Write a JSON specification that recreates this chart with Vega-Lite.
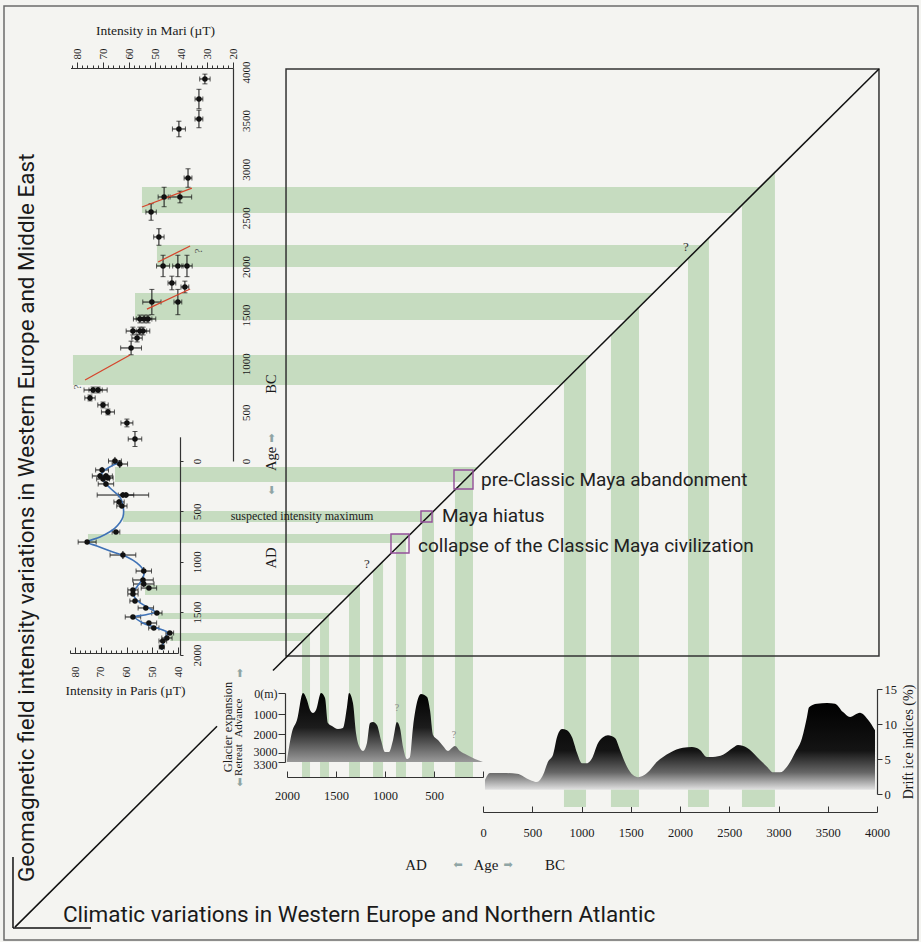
{
  "$schema": "https://vega.github.io/schema/vega-lite/v6.json",
  "width": 914,
  "height": 934,
  "autosize": {"type": "none"},
  "padding": {"left": 4, "top": 6, "right": 3, "bottom": 2},
  "background": "#f4f4f1",
  "config": {
    "view": {"stroke": "#6b6b6b", "strokeWidth": 1.5},
    "axis": {
      "grid": false, "labelFont": "Liberation Serif", "titleFont": "Liberation Serif",
      "labelFontSize": 11, "titleFontSize": 13.5, "titleFontWeight": "normal",
      "labelColor": "#1a1a1a", "titleColor": "#1a1a1a", "domainColor": "#333", "tickColor": "#333",
      "domainWidth": 1.2, "labelOverlap": false, "labelBound": false, "labelFlush": false
    },
    "text": {"font": "Liberation Serif", "color": "#1a1a1a"}
  },
  "datasets": {
    "hbands": [
      {"band": "H1", "y": -2817, "x0": 3480, "x1": -2806}, {"band": "H1", "y": -2550, "x0": 3480, "x1": -2541},
      {"band": "H2", "y": -2221, "x0": 3327, "x1": -2214}, {"band": "H2", "y": -1995, "x0": 3327, "x1": -1989},
      {"band": "H3", "y": -1727, "x0": 3551, "x1": -1724}, {"band": "H3", "y": -1450, "x0": 3551, "x1": -1448},
      {"band": "H4", "y": -1090, "x0": 4184, "x1": -1090}, {"band": "H4", "y": -781, "x0": 4184, "x1": -785},
      {"band": "A1", "y": 60, "x0": 3755, "x1": 53}, {"band": "A1", "y": 209, "x0": 3755, "x1": 207},
      {"band": "A2", "y": 497, "x0": 3673, "x1": 505}, {"band": "A2", "y": 606, "x0": 3673, "x1": 618},
      {"band": "A3", "y": 725, "x0": 4031, "x1": 741}, {"band": "A3", "y": 815, "x0": 4031, "x1": 834},
      {"band": "A4", "y": 1232, "x0": 3449, "x1": 1264}, {"band": "A4", "y": 1331, "x0": 3449, "x1": 1367},
      {"band": "A5", "y": 1512, "x0": 3316, "x1": 1552}, {"band": "A5", "y": 1581, "x0": 3316, "x1": 1613},
      {"band": "A6", "y": 1744, "x0": 3194, "x1": 1757}, {"band": "A6", "y": 1837, "x0": 3194, "x1": 1839}
    ],
    "vbands": [
      {"band": "V1", "x": -822, "y0": -820, "y1": 3767}, {"band": "V1", "x": -1046, "y0": -1045, "y1": 3767},
      {"band": "V2", "x": -1299, "y0": -1301, "y1": 3767}, {"band": "V2", "x": -1584, "y0": -1587, "y1": 3767},
      {"band": "V3", "x": -2081, "y0": -2087, "y1": 3767}, {"band": "V3", "x": -2294, "y0": -2302, "y1": 3767},
      {"band": "V4", "x": -2629, "y0": -2639, "y1": 3767}, {"band": "V4", "x": -2964, "y0": -2976, "y1": 3767},
      {"band": "VA1", "x": 1847, "y0": 1847, "y1": 3419}, {"band": "VA1", "x": 1765, "y0": 1753, "y1": 3419},
      {"band": "VA2", "x": 1663, "y0": 1638, "y1": 3419}, {"band": "VA2", "x": 1571, "y0": 1534, "y1": 3419},
      {"band": "VA3", "x": 1367, "y0": 1331, "y1": 3419}, {"band": "VA3", "x": 1255, "y0": 1223, "y1": 3419},
      {"band": "VA4", "x": 1122, "y0": 1095, "y1": 3419}, {"band": "VA4", "x": 1020, "y0": 995, "y1": 3419},
      {"band": "VA5", "x": 888, "y0": 867, "y1": 3419}, {"band": "VA5", "x": 786, "y0": 769, "y1": 3419},
      {"band": "VA6", "x": 622, "y0": 611, "y1": 3419}, {"band": "VA6", "x": 500, "y0": 492, "y1": 3419},
      {"band": "VA7", "x": 286, "y0": 284, "y1": 3419}, {"band": "VA7", "x": 102, "y0": 106, "y1": 3419}
    ],
    "mari": [
      {"bc": 3927, "uT": 30.8, "uT_lo": 28.8, "uT_hi": 32.8, "bc_lo": 3877, "bc_hi": 3977},
      {"bc": 3721, "uT": 33.1, "uT_lo": 31.6, "uT_hi": 34.6, "bc_lo": 3621, "bc_hi": 3821},
      {"bc": 3516, "uT": 33.1, "uT_lo": 31.6, "uT_hi": 34.6, "bc_lo": 3426, "bc_hi": 3606},
      {"bc": 3413, "uT": 40.8, "uT_lo": 38.3, "uT_hi": 43.3, "bc_lo": 3333, "bc_hi": 3493},
      {"bc": 2909, "uT": 37.3, "uT_lo": 35.8, "uT_hi": 38.8, "bc_lo": 2814, "bc_hi": 3004},
      {"bc": 2714, "uT": 40.4, "uT_lo": 35.9, "uT_hi": 44.9, "bc_lo": 2654, "bc_hi": 2774},
      {"bc": 2714, "uT": 46.5, "uT_lo": 44.2, "uT_hi": 48.8, "bc_lo": 2614, "bc_hi": 2814},
      {"bc": 2560, "uT": 51.5, "uT_lo": 49.5, "uT_hi": 53.5, "bc_lo": 2475, "bc_hi": 2645},
      {"bc": 2303, "uT": 48.5, "uT_lo": 46.5, "uT_hi": 50.5, "bc_lo": 2218, "bc_hi": 2388},
      {"bc": 2005, "uT": 46.9, "uT_lo": 44.4, "uT_hi": 49.4, "bc_lo": 1895, "bc_hi": 2115},
      {"bc": 2005, "uT": 41.2, "uT_lo": 39.2, "uT_hi": 43.2, "bc_lo": 1895, "bc_hi": 2115},
      {"bc": 2005, "uT": 37.7, "uT_lo": 35.7, "uT_hi": 39.7, "bc_lo": 1895, "bc_hi": 2115},
      {"bc": 1830, "uT": 43.5, "uT_lo": 42.0, "uT_hi": 45.0, "bc_lo": 1760, "bc_hi": 1900},
      {"bc": 1789, "uT": 38.5, "uT_lo": 37.0, "uT_hi": 40.0, "bc_lo": 1729, "bc_hi": 1849},
      {"bc": 1634, "uT": 51.2, "uT_lo": 47.7, "uT_hi": 54.7, "bc_lo": 1504, "bc_hi": 1764},
      {"bc": 1634, "uT": 41.2, "uT_lo": 39.7, "uT_hi": 42.7, "bc_lo": 1504, "bc_hi": 1764},
      {"bc": 1460, "uT": 55.8, "uT_lo": 53.3, "uT_hi": 58.3, "bc_lo": 1420, "bc_hi": 1500},
      {"bc": 1460, "uT": 54.2, "uT_lo": 51.2, "uT_hi": 57.2, "bc_lo": 1420, "bc_hi": 1500},
      {"bc": 1460, "uT": 52.7, "uT_lo": 49.7, "uT_hi": 55.7, "bc_lo": 1420, "bc_hi": 1500},
      {"bc": 1336, "uT": 58.5, "uT_lo": 55.9, "uT_hi": 61.1, "bc_lo": 1296, "bc_hi": 1376},
      {"bc": 1336, "uT": 55.8, "uT_lo": 53.2, "uT_hi": 58.4, "bc_lo": 1296, "bc_hi": 1376},
      {"bc": 1336, "uT": 54.6, "uT_lo": 52.0, "uT_hi": 57.2, "bc_lo": 1296, "bc_hi": 1376},
      {"bc": 1264, "uT": 56.9, "uT_lo": 54.9, "uT_hi": 58.9, "bc_lo": 1224, "bc_hi": 1304},
      {"bc": 1162, "uT": 59.2, "uT_lo": 55.2, "uT_hi": 63.2, "bc_lo": 1092, "bc_hi": 1232},
      {"bc": 730, "uT": 73.8, "uT_lo": 70.3, "uT_hi": 77.3, "bc_lo": 700, "bc_hi": 760},
      {"bc": 730, "uT": 71.9, "uT_lo": 68.4, "uT_hi": 75.4, "bc_lo": 700, "bc_hi": 760},
      {"bc": 648, "uT": 75.0, "uT_lo": 73.0, "uT_hi": 77.0, "bc_lo": 618, "bc_hi": 678},
      {"bc": 576, "uT": 70.0, "uT_lo": 68.0, "uT_hi": 72.0, "bc_lo": 546, "bc_hi": 606},
      {"bc": 504, "uT": 68.1, "uT_lo": 65.6, "uT_hi": 70.6, "bc_lo": 474, "bc_hi": 534},
      {"bc": 391, "uT": 60.8, "uT_lo": 58.5, "uT_hi": 63.1, "bc_lo": 351, "bc_hi": 431},
      {"bc": 226, "uT": 57.7, "uT_lo": 55.1, "uT_hi": 60.3, "bc_lo": 149, "bc_hi": 303}
    ],
    "mari_trend": [
      {"uT1": 55.0, "bc1": 2611, "uT2": 35.8, "bc2": 2806},
      {"uT1": 48.8, "bc1": 2046, "uT2": 36.5, "bc2": 2210},
      {"uT1": 53.1, "bc1": 1562, "uT2": 36.5, "bc2": 1768},
      {"uT1": 76.9, "bc1": 833, "uT2": 59.6, "bc2": 1090}
    ],
    "mari_q": [{"t": "?", "uT": 79.6, "bc": 761}, {"t": "?", "uT": 33.1, "bc": 2159}],
    "paris": [
      {"ad": 0, "uT": 64.5, "uT_lo": 62.0, "uT_hi": 67.0, "ad_lo": -40, "ad_hi": 40},
      {"ad": 30, "uT": 62.6, "uT_lo": 59.6, "uT_hi": 65.6, "ad_lo": -10, "ad_hi": 70},
      {"ad": 89, "uT": 69.5, "uT_lo": 67.0, "uT_hi": 72.0, "ad_lo": 59, "ad_hi": 119},
      {"ad": 149, "uT": 70.3, "uT_lo": 67.3, "uT_hi": 73.3, "ad_lo": 119, "ad_hi": 179},
      {"ad": 149, "uT": 68.0, "uT_lo": 65.5, "uT_hi": 70.5, "ad_lo": 119, "ad_hi": 179},
      {"ad": 169, "uT": 67.2, "uT_lo": 65.2, "uT_hi": 69.2, "ad_lo": 149, "ad_hi": 189},
      {"ad": 179, "uT": 69.1, "uT_lo": 66.6, "uT_hi": 71.6, "ad_lo": 149, "ad_hi": 209},
      {"ad": 228, "uT": 68.0, "uT_lo": 65.0, "uT_hi": 71.0, "ad_lo": 198, "ad_hi": 258},
      {"ad": 338, "uT": 61.4, "uT_lo": 51.4, "uT_hi": 71.4, "ad_lo": 308, "ad_hi": 368},
      {"ad": 338, "uT": 60.2, "uT_lo": 57.2, "uT_hi": 63.2, "ad_lo": 308, "ad_hi": 368},
      {"ad": 407, "uT": 62.9, "uT_lo": 60.9, "uT_hi": 64.9, "ad_lo": 377, "ad_hi": 437},
      {"ad": 447, "uT": 61.8, "uT_lo": 59.8, "uT_hi": 63.8, "ad_lo": 427, "ad_hi": 467},
      {"ad": 705, "uT": 64.1, "uT_lo": 62.6, "uT_hi": 65.6, "ad_lo": 685, "ad_hi": 725},
      {"ad": 805, "uT": 75.3, "uT_lo": 71.8, "uT_hi": 78.8, "ad_lo": 785, "ad_hi": 825},
      {"ad": 934, "uT": 61.4, "uT_lo": 56.4, "uT_hi": 66.4, "ad_lo": 894, "ad_hi": 974},
      {"ad": 1093, "uT": 53.3, "uT_lo": 50.3, "uT_hi": 56.3, "ad_lo": 1053, "ad_hi": 1133},
      {"ad": 1182, "uT": 53.6, "uT_lo": 49.6, "uT_hi": 57.6, "ad_lo": 1142, "ad_hi": 1222},
      {"ad": 1222, "uT": 53.3, "uT_lo": 49.3, "uT_hi": 57.3, "ad_lo": 1192, "ad_hi": 1252},
      {"ad": 1262, "uT": 51.3, "uT_lo": 48.3, "uT_hi": 54.3, "ad_lo": 1242, "ad_hi": 1282},
      {"ad": 1281, "uT": 57.5, "uT_lo": 55.5, "uT_hi": 59.5, "ad_lo": 1261, "ad_hi": 1301},
      {"ad": 1321, "uT": 57.5, "uT_lo": 55.5, "uT_hi": 59.5, "ad_lo": 1301, "ad_hi": 1341},
      {"ad": 1391, "uT": 56.7, "uT_lo": 54.7, "uT_hi": 58.7, "ad_lo": 1371, "ad_hi": 1411},
      {"ad": 1460, "uT": 52.5, "uT_lo": 49.5, "uT_hi": 55.5, "ad_lo": 1440, "ad_hi": 1480},
      {"ad": 1512, "uT": 48.2, "uT_lo": 46.2, "uT_hi": 50.2, "ad_lo": 1492, "ad_hi": 1532},
      {"ad": 1558, "uT": 57.5, "uT_lo": 54.5, "uT_hi": 60.5, "ad_lo": 1538, "ad_hi": 1578},
      {"ad": 1628, "uT": 51.3, "uT_lo": 48.3, "uT_hi": 54.3, "ad_lo": 1608, "ad_hi": 1648},
      {"ad": 1686, "uT": 49.4, "uT_lo": 47.4, "uT_hi": 51.4, "ad_lo": 1666, "ad_hi": 1706},
      {"ad": 1744, "uT": 43.2, "uT_lo": 41.7, "uT_hi": 44.7, "ad_lo": 1724, "ad_hi": 1764},
      {"ad": 1802, "uT": 44.3, "uT_lo": 42.3, "uT_hi": 46.3, "ad_lo": 1782, "ad_hi": 1822},
      {"ad": 1837, "uT": 45.9, "uT_lo": 44.4, "uT_hi": 47.4, "ad_lo": 1817, "ad_hi": 1857},
      {"ad": 1907, "uT": 46.3, "uT_lo": 45.3, "uT_hi": 47.3, "ad_lo": 1887, "ad_hi": 1927}
    ],
    "paris_curve": [
      {"ad": 10, "uT": 62.6}, {"ad": 119, "uT": 69.5}, {"ad": 189, "uT": 69.1}, {"ad": 268, "uT": 66.4},
      {"ad": 358, "uT": 62.6}, {"ad": 437, "uT": 61.4}, {"ad": 556, "uT": 61.4}, {"ad": 666, "uT": 64.5},
      {"ad": 755, "uT": 70.3}, {"ad": 805, "uT": 75.3}, {"ad": 844, "uT": 71.5}, {"ad": 904, "uT": 65.3},
      {"ad": 954, "uT": 59.8}, {"ad": 1013, "uT": 56.0}, {"ad": 1093, "uT": 53.3}, {"ad": 1162, "uT": 53.6},
      {"ad": 1252, "uT": 56.0}, {"ad": 1311, "uT": 57.5}, {"ad": 1381, "uT": 56.0}, {"ad": 1450, "uT": 52.1},
      {"ad": 1500, "uT": 49.0}, {"ad": 1535, "uT": 52.9}, {"ad": 1558, "uT": 56.7}, {"ad": 1628, "uT": 53.6},
      {"ad": 1686, "uT": 48.2}, {"ad": 1744, "uT": 44.0}, {"ad": 1802, "uT": 45.1}, {"ad": 1884, "uT": 45.9},
      {"ad": 1942, "uT": 46.3}
    ],
    "glacier": [
      {"ad": 2000, "depth": 3233}, {"ad": 1949, "depth": 1900}, {"ad": 1898, "depth": 1300}, {"ad": 1837, "depth": 0},
      {"ad": 1796, "depth": 333}, {"ad": 1765, "depth": 810}, {"ad": 1735, "depth": 952}, {"ad": 1704, "depth": 810},
      {"ad": 1653, "depth": 0}, {"ad": 1612, "depth": 238}, {"ad": 1582, "depth": 1450}, {"ad": 1541, "depth": 1600},
      {"ad": 1480, "depth": 1750}, {"ad": 1429, "depth": 1700}, {"ad": 1388, "depth": 667}, {"ad": 1367, "depth": 0},
      {"ad": 1327, "depth": 476}, {"ad": 1296, "depth": 1950}, {"ad": 1255, "depth": 2737}, {"ad": 1224, "depth": 2895},
      {"ad": 1184, "depth": 2474}, {"ad": 1153, "depth": 1450}, {"ad": 1122, "depth": 1400}, {"ad": 1082, "depth": 1550},
      {"ad": 1041, "depth": 2316}, {"ad": 1000, "depth": 2947}, {"ad": 959, "depth": 2947}, {"ad": 918, "depth": 2316},
      {"ad": 878, "depth": 1400}, {"ad": 847, "depth": 1700}, {"ad": 816, "depth": 2684}, {"ad": 776, "depth": 3200},
      {"ad": 745, "depth": 3133}, {"ad": 714, "depth": 1650}, {"ad": 673, "depth": 429}, {"ad": 633, "depth": 48},
      {"ad": 571, "depth": 190}, {"ad": 541, "depth": 810}, {"ad": 510, "depth": 2053}, {"ad": 459, "depth": 2316},
      {"ad": 408, "depth": 2632}, {"ad": 357, "depth": 2895}, {"ad": 306, "depth": 2684}, {"ad": 286, "depth": 2632},
      {"ad": 235, "depth": 2895}, {"ad": 163, "depth": 3067}, {"ad": 82, "depth": 3200}, {"ad": 0, "depth": 3300}
    ],
    "glacier_q": [{"t": "?", "ad": 878, "depth": 714}, {"t": "?", "ad": 296, "depth": 2053}],
    "drift": [
      {"bc": 20, "pct": 2.0}, {"bc": 71, "pct": 3.0}, {"bc": 203, "pct": 3.0}, {"bc": 345, "pct": 2.9},
      {"bc": 477, "pct": 2.0}, {"bc": 548, "pct": 1.7}, {"bc": 609, "pct": 2.7}, {"bc": 660, "pct": 4.6},
      {"bc": 711, "pct": 5.6}, {"bc": 751, "pct": 8.1}, {"bc": 802, "pct": 9.3}, {"bc": 853, "pct": 9.1},
      {"bc": 904, "pct": 8.1}, {"bc": 954, "pct": 5.9}, {"bc": 1005, "pct": 4.4}, {"bc": 1056, "pct": 4.4},
      {"bc": 1107, "pct": 5.1}, {"bc": 1168, "pct": 7.3}, {"bc": 1218, "pct": 8.1}, {"bc": 1269, "pct": 8.4},
      {"bc": 1340, "pct": 8.0}, {"bc": 1391, "pct": 6.3}, {"bc": 1462, "pct": 3.9}, {"bc": 1523, "pct": 2.7},
      {"bc": 1574, "pct": 2.4}, {"bc": 1665, "pct": 3.0}, {"bc": 1766, "pct": 4.6}, {"bc": 1898, "pct": 5.9},
      {"bc": 2030, "pct": 6.6}, {"bc": 2122, "pct": 6.7}, {"bc": 2203, "pct": 6.3}, {"bc": 2274, "pct": 5.3},
      {"bc": 2335, "pct": 5.3}, {"bc": 2437, "pct": 5.6}, {"bc": 2538, "pct": 6.6}, {"bc": 2589, "pct": 7.0},
      {"bc": 2680, "pct": 6.6}, {"bc": 2782, "pct": 5.3}, {"bc": 2883, "pct": 3.9}, {"bc": 2944, "pct": 3.1},
      {"bc": 3015, "pct": 3.1}, {"bc": 3086, "pct": 3.9}, {"bc": 3168, "pct": 5.9}, {"bc": 3239, "pct": 8.0},
      {"bc": 3289, "pct": 11.0}, {"bc": 3310, "pct": 12.4}, {"bc": 3391, "pct": 12.9}, {"bc": 3492, "pct": 13.0},
      {"bc": 3574, "pct": 12.9}, {"bc": 3655, "pct": 11.7}, {"bc": 3726, "pct": 11.0}, {"bc": 3827, "pct": 11.6},
      {"bc": 3909, "pct": 10.6}, {"bc": 3980, "pct": 9.1}
    ],
    "box": [{"x": 2010, "x2": -4020, "y": -4031, "y2": 2012}],
    "lines": [
      {"x": 4776, "y": 5164, "x2": 2714, "y2": 2829},
      {"x": 2143, "y": 2181, "x2": -4020, "y2": -4031},
      {"x": 4796, "y": 4349, "x2": 4796, "y2": 5174},
      {"x": 4796, "y": 5174, "x2": 4000, "y2": 5174}
    ],
    "squares": [
      {"x": 296, "x2": 102, "y": 89, "y2": 278},
      {"x": 633, "x2": 520, "y": 497, "y2": 606},
      {"x": 939, "x2": 755, "y": 725, "y2": 914}
    ],
    "maya": [
      {"t": "pre-Classic Maya abandonment", "x": 20, "y": 189},
      {"t": "Maya hiatus", "x": 418, "y": 546},
      {"t": "collapse of the Classic Maya civilization", "x": 663, "y": 844}
    ],
    "serif_small": [{"t": "suspected intensity maximum", "x": 1847, "y": 546}],
    "serif_mid": [{"t": "AD", "x": 684, "y": 4442}, {"t": "Age", "x": -30, "y": 4442}, {"t": "BC", "x": -731, "y": 4442}],
    "rot14": [{"t": "BC", "x": 2156, "y": -792}, {"t": "Age", "x": 2156, "y": -21}, {"t": "AD", "x": 2156, "y": 964}],
    "rot_glacier": [{"t": "Glacier expansion", "x": 2607, "y": 2837}],
    "rot_advance": [{"t": "Advance", "x": 2490, "y": 2733}, {"t": "Retreat", "x": 2490, "y": 3221}],
    "arrows": [
      {"t": "⬆", "x": 2156, "y": -226}, {"t": "⬇", "x": 2156, "y": 298},
      {"t": "⬆", "x": 2480, "y": 2221}, {"t": "⬇", "x": 2480, "y": 3488},
      {"t": "⬅", "x": 255, "y": 4442}, {"t": "➡", "x": -254, "y": 4442}
    ],
    "qmarks": [{"t": "?", "x": -2061, "y": -2200}, {"t": "?", "x": 1184, "y": 1023}],
    "title_h": [{"t": "Climatic variations in Western Europe and Northern Atlantic", "x": 4286, "y": 5023}],
    "title_v": [{"t": "Geomagnetic field intensity variations in Western Europe and Middle East", "x": 4648, "y": 4640}]
  },
  "layer": [
    {
      "layer": [
        {
          "data": {"name": "hbands"},
          "mark": {"type": "area", "orient": "horizontal", "color": "#c6dcc0"},
          "encoding": {
            "y": {"field": "y", "type": "quantitative", "scale": {"domain": [-4000, 0, 1500, 2000], "range": [66, 455, 606, 649], "nice": false, "zero": false}, "axis": null},
            "x": {"field": "x0", "type": "quantitative", "stack": null, "scale": {"domain": [-4000, 0, 2000], "range": [873, 479, 283], "nice": false, "zero": false}, "axis": null},
            "x2": {"field": "x1"},
            "detail": {"field": "band"}
          }
        },
        {
          "data": {"name": "vbands"},
          "mark": {"type": "area", "orient": "vertical", "color": "#c6dcc0"},
          "encoding": {
            "x": {"field": "x", "type": "quantitative", "scale": {"domain": [-4000, 0, 2000], "range": [873, 479, 283], "nice": false, "zero": false}, "axis": null},
            "y": {"field": "y0", "type": "quantitative", "stack": null, "scale": {"domain": [-4000, 0, 1500, 2000], "range": [66, 455, 606, 649], "nice": false, "zero": false}, "axis": null},
            "y2": {"field": "y1"},
            "detail": {"field": "band"}
          }
        }
      ]
    },
    {
      "data": {"name": "mari"},
      "mark": {"type": "point", "opacity": 0},
      "encoding": {
        "x": {"field": "uT", "type": "quantitative", "scale": {"domain": [20, 82.5], "range": [229, 66.5], "nice": false, "zero": false},
          "axis": {"orient": "top", "offset": -62, "values": [22, 24, 26, 28, 32, 34, 36, 38, 42, 44, 46, 48, 52, 54, 56, 58, 62, 64, 66, 68, 72, 74, 76, 78, 82], "labels": false, "domain": false, "tickSize": 3, "title": null}}
      }
    },
    {
      "data": {"name": "mari"},
      "mark": {"type": "point", "opacity": 0},
      "encoding": {
        "x": {"field": "uT", "type": "quantitative", "scale": {"domain": [20, 82.5], "range": [229, 66.5], "nice": false, "zero": false},
          "axis": {"orient": "top", "offset": -62, "values": [20, 30, 40, 50, 60, 70, 80], "tickSize": 6, "labelAngle": 270, "labelAlign": "left", "labelBaseline": "middle", "labelPadding": 3, "title": "Intensity in Mari (µT)", "titleX": 151, "titleY": -38, "titleBaseline": "middle", "titleAlign": "center"}},
        "y": {"field": "bc", "type": "quantitative", "scale": {"domain": [0, 4040], "range": [455, 62], "nice": false, "zero": false},
          "axis": {"orient": "right", "offset": -685, "values": [0, 500, 1000, 1500, 2000, 2500, 3000, 3500, 4000], "format": "d", "ticks": false, "labelAngle": 270, "labelAlign": "center", "labelBaseline": "top", "labelPadding": 7, "title": null, "zindex": 1}}
      }
    },
    {
      "data": {"name": "mari"},
      "layer": [
        {
          "mark": {"type": "rule", "color": "#111", "strokeWidth": 1},
          "encoding": {
            "x": {"field": "uT_lo", "type": "quantitative", "scale": {"domain": [20, 82.5], "range": [229, 66.5], "nice": false, "zero": false}, "axis": null},
            "x2": {"field": "uT_hi"},
            "y": {"field": "bc", "type": "quantitative", "scale": {"domain": [0, 4040], "range": [455, 62], "nice": false, "zero": false}, "axis": null}
          }
        },
        {
          "mark": {"type": "rule", "color": "#111", "strokeWidth": 1},
          "encoding": {
            "x": {"field": "uT", "type": "quantitative", "scale": {"domain": [20, 82.5], "range": [229, 66.5], "nice": false, "zero": false}, "axis": null},
            "y": {"field": "bc_lo", "type": "quantitative", "scale": {"domain": [0, 4040], "range": [455, 62], "nice": false, "zero": false}, "axis": null},
            "y2": {"field": "bc_hi"}
          }
        },
        {
          "mark": {"type": "tick", "orient": "vertical", "size": 5, "thickness": 1, "color": "#111"},
          "encoding": {
            "x": {"field": "uT_lo", "type": "quantitative", "scale": {"domain": [20, 82.5], "range": [229, 66.5], "nice": false, "zero": false}, "axis": null},
            "y": {"field": "bc", "type": "quantitative", "scale": {"domain": [0, 4040], "range": [455, 62], "nice": false, "zero": false}, "axis": null}
          }
        },
        {
          "mark": {"type": "tick", "orient": "vertical", "size": 5, "thickness": 1, "color": "#111"},
          "encoding": {
            "x": {"field": "uT_hi", "type": "quantitative", "scale": {"domain": [20, 82.5], "range": [229, 66.5], "nice": false, "zero": false}, "axis": null},
            "y": {"field": "bc", "type": "quantitative", "scale": {"domain": [0, 4040], "range": [455, 62], "nice": false, "zero": false}, "axis": null}
          }
        },
        {
          "mark": {"type": "tick", "orient": "horizontal", "size": 5, "thickness": 1, "color": "#111"},
          "encoding": {
            "x": {"field": "uT", "type": "quantitative", "scale": {"domain": [20, 82.5], "range": [229, 66.5], "nice": false, "zero": false}, "axis": null},
            "y": {"field": "bc_lo", "type": "quantitative", "scale": {"domain": [0, 4040], "range": [455, 62], "nice": false, "zero": false}, "axis": null}
          }
        },
        {
          "mark": {"type": "tick", "orient": "horizontal", "size": 5, "thickness": 1, "color": "#111"},
          "encoding": {
            "x": {"field": "uT", "type": "quantitative", "scale": {"domain": [20, 82.5], "range": [229, 66.5], "nice": false, "zero": false}, "axis": null},
            "y": {"field": "bc_hi", "type": "quantitative", "scale": {"domain": [0, 4040], "range": [455, 62], "nice": false, "zero": false}, "axis": null}
          }
        },
        {
          "data": {"name": "mari_trend"},
          "mark": {"type": "rule", "color": "#d6452c", "strokeWidth": 1.3},
          "encoding": {
            "x": {"field": "uT1", "type": "quantitative", "scale": {"domain": [20, 82.5], "range": [229, 66.5], "nice": false, "zero": false}, "axis": null},
            "x2": {"field": "uT2"},
            "y": {"field": "bc1", "type": "quantitative", "scale": {"domain": [0, 4040], "range": [455, 62], "nice": false, "zero": false}, "axis": null},
            "y2": {"field": "bc2"}
          }
        },
        {
          "mark": {"type": "circle", "size": 30, "color": "#111", "opacity": 1},
          "encoding": {
            "x": {"field": "uT", "type": "quantitative", "scale": {"domain": [20, 82.5], "range": [229, 66.5], "nice": false, "zero": false}, "axis": null},
            "y": {"field": "bc", "type": "quantitative", "scale": {"domain": [0, 4040], "range": [455, 62], "nice": false, "zero": false}, "axis": null}
          }
        },
        {
          "data": {"name": "mari_q"},
          "mark": {"type": "text", "angle": 270, "fontSize": 11, "color": "#555"},
          "encoding": {
            "x": {"field": "uT", "type": "quantitative", "scale": {"domain": [20, 82.5], "range": [229, 66.5], "nice": false, "zero": false}, "axis": null},
            "y": {"field": "bc", "type": "quantitative", "scale": {"domain": [0, 4040], "range": [455, 62], "nice": false, "zero": false}, "axis": null},
            "text": {"field": "t"}
          }
        }
      ]
    },
    {
      "data": {"name": "paris"},
      "mark": {"type": "point", "opacity": 0},
      "encoding": {
        "x": {"field": "uT", "type": "quantitative", "scale": {"domain": [40, 82], "range": [174, 65.9], "nice": false, "zero": false},
          "axis": {"orient": "bottom", "offset": -287, "values": [42, 44, 46, 48, 52, 54, 56, 58, 62, 64, 66, 68, 72, 74, 76, 78, 82], "labels": false, "domain": false, "tickSize": -3, "title": null}}
      }
    },
    {
      "data": {"name": "paris"},
      "mark": {"type": "point", "opacity": 0},
      "encoding": {
        "x": {"field": "uT", "type": "quantitative", "scale": {"domain": [40, 82], "range": [174, 65.9], "nice": false, "zero": false},
          "axis": {"orient": "bottom", "offset": -287, "values": [40, 50, 60, 70, 80], "labels": false, "domain": false, "tickSize": -6, "title": null}}
      }
    },
    {
      "data": {"name": "paris"},
      "mark": {"type": "point", "opacity": 0},
      "encoding": {
        "x": {"field": "uT", "type": "quantitative", "scale": {"domain": [40, 82], "range": [174, 65.9], "nice": false, "zero": false},
          "axis": {"orient": "bottom", "offset": -287, "values": [40, 50, 60, 70, 80], "ticks": false, "labelAngle": 270, "labelAlign": "right", "labelBaseline": "middle", "labelPadding": 13, "title": "Intensity in Paris (µT)", "titleX": 121, "titleY": 37, "titleBaseline": "middle", "titleAlign": "center"}},
        "y": {"field": "ad", "type": "quantitative", "scale": {"domain": [-240, 0, 1500, 2000], "range": [430.8, 455, 606, 649], "nice": false, "zero": false},
          "axis": {"orient": "right", "offset": -738, "values": [0, 500, 1000, 1500, 2000], "format": "d", "tickSize": 3, "labelAngle": 270, "labelAlign": "center", "labelBaseline": "top", "labelPadding": 8, "title": null, "zindex": 1}}
      }
    },
    {
      "data": {"name": "paris"},
      "layer": [
        {
          "mark": {"type": "rule", "color": "#111", "strokeWidth": 1},
          "encoding": {
            "x": {"field": "uT_lo", "type": "quantitative", "scale": {"domain": [40, 82], "range": [174, 65.9], "nice": false, "zero": false}, "axis": null},
            "x2": {"field": "uT_hi"},
            "y": {"field": "ad", "type": "quantitative", "scale": {"domain": [-240, 0, 1500, 2000], "range": [430.8, 455, 606, 649], "nice": false, "zero": false}, "axis": null}
          }
        },
        {
          "mark": {"type": "rule", "color": "#111", "strokeWidth": 1},
          "encoding": {
            "x": {"field": "uT", "type": "quantitative", "scale": {"domain": [40, 82], "range": [174, 65.9], "nice": false, "zero": false}, "axis": null},
            "y": {"field": "ad_lo", "type": "quantitative", "scale": {"domain": [-240, 0, 1500, 2000], "range": [430.8, 455, 606, 649], "nice": false, "zero": false}, "axis": null},
            "y2": {"field": "ad_hi"}
          }
        },
        {
          "mark": {"type": "tick", "orient": "vertical", "size": 5, "thickness": 1, "color": "#111"},
          "encoding": {
            "x": {"field": "uT_lo", "type": "quantitative", "scale": {"domain": [40, 82], "range": [174, 65.9], "nice": false, "zero": false}, "axis": null},
            "y": {"field": "ad", "type": "quantitative", "scale": {"domain": [-240, 0, 1500, 2000], "range": [430.8, 455, 606, 649], "nice": false, "zero": false}, "axis": null}
          }
        },
        {
          "mark": {"type": "tick", "orient": "vertical", "size": 5, "thickness": 1, "color": "#111"},
          "encoding": {
            "x": {"field": "uT_hi", "type": "quantitative", "scale": {"domain": [40, 82], "range": [174, 65.9], "nice": false, "zero": false}, "axis": null},
            "y": {"field": "ad", "type": "quantitative", "scale": {"domain": [-240, 0, 1500, 2000], "range": [430.8, 455, 606, 649], "nice": false, "zero": false}, "axis": null}
          }
        },
        {
          "data": {"name": "paris_curve"},
          "mark": {"type": "line", "color": "#3f72b6", "strokeWidth": 1.6, "interpolate": "catmull-rom"},
          "encoding": {
            "x": {"field": "uT", "type": "quantitative", "scale": {"domain": [40, 82], "range": [174, 65.9], "nice": false, "zero": false}, "axis": null},
            "y": {"field": "ad", "type": "quantitative", "scale": {"domain": [-240, 0, 1500, 2000], "range": [430.8, 455, 606, 649], "nice": false, "zero": false}, "axis": null},
            "order": {"field": "ad", "type": "quantitative"}
          }
        },
        {
          "mark": {"type": "circle", "size": 30, "color": "#111", "opacity": 1},
          "encoding": {
            "x": {"field": "uT", "type": "quantitative", "scale": {"domain": [40, 82], "range": [174, 65.9], "nice": false, "zero": false}, "axis": null},
            "y": {"field": "ad", "type": "quantitative", "scale": {"domain": [-240, 0, 1500, 2000], "range": [430.8, 455, 606, 649], "nice": false, "zero": false}, "axis": null}
          }
        }
      ]
    },
    {
      "data": {"name": "glacier"},
      "mark": {"type": "point", "opacity": 0},
      "encoding": {
        "x": {"field": "ad", "type": "quantitative", "scale": {"domain": [0, 2000], "range": [479, 283], "nice": false, "zero": false},
          "axis": {"orient": "top", "offset": -771, "values": [0, 500, 1000, 1500, 2000], "labels": false, "domain": false, "tickSize": 6, "title": null}}
      }
    },
    {
      "data": {"name": "glacier"},
      "mark": {"type": "point", "opacity": 0},
      "encoding": {
        "x": {"field": "ad", "type": "quantitative", "scale": {"domain": [0, 2000], "range": [479, 283], "nice": false, "zero": false},
          "axis": {"orient": "top", "offset": -771, "values": [0, 500, 1000, 1500, 2000], "format": "d", "ticks": false, "labelPadding": -12, "labelBaseline": "top", "labelFontSize": 12.5, "labelExpr": "datum.value == 0 ? '' : datum.label", "title": null}},
        "y": {"field": "depth", "type": "quantitative", "scale": {"domain": [0, 1000, 2000, 3000, 3300], "range": [687, 708, 728, 747, 756], "nice": false, "zero": false},
          "axis": {"orient": "left", "offset": -281, "values": [0, 1000, 2000, 3000, 3300], "format": "d", "tickSize": 7, "labelPadding": 1, "labelFontSize": 12, "labelOffset": {"condition": [{"test": "datum.value == 3000", "value": -2}, {"test": "datum.value == 3300", "value": 2.5}], "value": 0}, "labelExpr": "datum.value == 0 ? '0(m)' : datum.label", "title": null}}
      }
    },
    {
      "data": {"name": "glacier"},
      "mark": {"type": "area", "interpolate": "monotone", "color": {"gradient": "linear", "x1": 0, "y1": 0, "x2": 0, "y2": 1, "stops": [{"offset": 0, "color": "#000000"}, {"offset": 0.5, "color": "#1c1c1c"}, {"offset": 1, "color": "#9a9a9a"}]}},
      "encoding": {
        "x": {"field": "ad", "type": "quantitative", "scale": {"domain": [0, 2000], "range": [479, 283], "nice": false, "zero": false}, "axis": null},
        "y": {"field": "depth", "type": "quantitative", "stack": null, "scale": {"domain": [0, 1000, 2000, 3000, 3300], "range": [687, 708, 728, 747, 756], "nice": false, "zero": false}, "axis": null},
        "y2": {"datum": 3300}
      }
    },
    {
      "data": {"name": "glacier_q"},
      "mark": {"type": "text", "fontSize": 10, "color": "#8a8a8a"},
      "encoding": {
        "x": {"field": "ad", "type": "quantitative", "scale": {"domain": [0, 2000], "range": [479, 283], "nice": false, "zero": false}, "axis": null},
        "y": {"field": "depth", "type": "quantitative", "scale": {"domain": [0, 1000, 2000, 3000, 3300], "range": [687, 708, 728, 747, 756], "nice": false, "zero": false}, "axis": null},
        "text": {"field": "t"}
      }
    },
    {
      "data": {"name": "drift"},
      "mark": {"type": "point", "opacity": 0},
      "encoding": {
        "x": {"field": "bc", "type": "quantitative", "scale": {"domain": [0, 4000], "range": [479, 873], "nice": false, "zero": false},
          "axis": {"orient": "top", "offset": -806, "values": [0, 500, 1000, 1500, 2000, 2500, 3000, 3500, 4000], "labels": false, "domain": false, "tickSize": 6, "title": null}}
      }
    },
    {
      "data": {"name": "drift"},
      "mark": {"type": "point", "opacity": 0},
      "encoding": {
        "x": {"field": "bc", "type": "quantitative", "scale": {"domain": [0, 4000], "range": [479, 873], "nice": false, "zero": false},
          "axis": {"orient": "top", "offset": -806, "values": [0, 500, 1000, 1500, 2000, 2500, 3000, 3500, 4000], "format": "d", "ticks": false, "labelPadding": -14, "labelBaseline": "top", "labelFontSize": 12.5, "title": null}},
        "y": {"field": "pct", "type": "quantitative", "scale": {"domain": [0, 15], "range": [788, 683], "nice": false, "zero": false},
          "axis": {"orient": "right", "offset": -41, "values": [0, 5, 10, 15], "tickSize": 5, "labelPadding": 2, "labelFontSize": 12.5, "title": "Drift ice indices (%)", "titleFontSize": 14, "titleAngle": 270, "titleBaseline": "top", "titlePadding": 5}}
      }
    },
    {
      "data": {"name": "drift"},
      "mark": {"type": "area", "interpolate": "monotone", "color": {"gradient": "linear", "x1": 0, "y1": 0, "x2": 0, "y2": 1, "stops": [{"offset": 0, "color": "#000000"}, {"offset": 0.55, "color": "#141414"}, {"offset": 0.8, "color": "#666666"}, {"offset": 1, "color": "#e2e2e2"}]}},
      "encoding": {
        "x": {"field": "bc", "type": "quantitative", "scale": {"domain": [0, 4000], "range": [479, 873], "nice": false, "zero": false}, "axis": null},
        "y": {"field": "pct", "type": "quantitative", "stack": null, "scale": {"domain": [0, 15], "range": [788, 683], "nice": false, "zero": false}, "axis": null},
        "y2": {"datum": 0.6}
      }
    },
    {
      "layer": [
        {
          "data": {"name": "box"},
          "mark": {"type": "rect", "filled": false, "color": "#333", "strokeWidth": 1.5},
          "encoding": {
            "x": {"field": "x", "type": "quantitative", "scale": {"domain": [-4000, 0, 2000], "range": [873, 479, 283], "nice": false, "zero": false}, "axis": null},
            "x2": {"field": "x2"},
            "y": {"field": "y", "type": "quantitative", "scale": {"domain": [-4000, 0, 1500, 2000], "range": [66, 455, 606, 649], "nice": false, "zero": false}, "axis": null},
            "y2": {"field": "y2"}
          }
        },
        {
          "data": {"name": "lines"},
          "mark": {"type": "rule", "color": "#111", "strokeWidth": 1.5},
          "encoding": {
            "x": {"field": "x", "type": "quantitative", "scale": {"domain": [-4000, 0, 2000], "range": [873, 479, 283], "nice": false, "zero": false}, "axis": null},
            "x2": {"field": "x2"},
            "y": {"field": "y", "type": "quantitative", "scale": {"domain": [-4000, 0, 1500, 2000], "range": [66, 455, 606, 649], "nice": false, "zero": false}, "axis": null},
            "y2": {"field": "y2"}
          }
        },
        {
          "data": {"name": "squares"},
          "mark": {"type": "rect", "filled": false, "color": "#94509a", "strokeWidth": 1.4},
          "encoding": {
            "x": {"field": "x", "type": "quantitative", "scale": {"domain": [-4000, 0, 2000], "range": [873, 479, 283], "nice": false, "zero": false}, "axis": null},
            "x2": {"field": "x2"},
            "y": {"field": "y", "type": "quantitative", "scale": {"domain": [-4000, 0, 1500, 2000], "range": [66, 455, 606, 649], "nice": false, "zero": false}, "axis": null},
            "y2": {"field": "y2"}
          }
        },
        {
          "data": {"name": "maya"},
          "mark": {"type": "text", "font": "Roboto", "fontSize": 19, "align": "left", "baseline": "middle", "color": "#222"},
          "encoding": {
            "x": {"field": "x", "type": "quantitative", "scale": {"domain": [-4000, 0, 2000], "range": [873, 479, 283], "nice": false, "zero": false}, "axis": null},
            "y": {"field": "y", "type": "quantitative", "scale": {"domain": [-4000, 0, 1500, 2000], "range": [66, 455, 606, 649], "nice": false, "zero": false}, "axis": null},
            "text": {"field": "t"}
          }
        },
        {
          "data": {"name": "serif_small"},
          "mark": {"type": "text", "fontSize": 12, "align": "center", "baseline": "middle"},
          "encoding": {
            "x": {"field": "x", "type": "quantitative", "scale": {"domain": [-4000, 0, 2000], "range": [873, 479, 283], "nice": false, "zero": false}, "axis": null},
            "y": {"field": "y", "type": "quantitative", "scale": {"domain": [-4000, 0, 1500, 2000], "range": [66, 455, 606, 649], "nice": false, "zero": false}, "axis": null},
            "text": {"field": "t"}
          }
        },
        {
          "data": {"name": "serif_mid"},
          "mark": {"type": "text", "fontSize": 15, "align": "center", "baseline": "middle"},
          "encoding": {
            "x": {"field": "x", "type": "quantitative", "scale": {"domain": [-4000, 0, 2000], "range": [873, 479, 283], "nice": false, "zero": false}, "axis": null},
            "y": {"field": "y", "type": "quantitative", "scale": {"domain": [-4000, 0, 1500, 2000], "range": [66, 455, 606, 649], "nice": false, "zero": false}, "axis": null},
            "text": {"field": "t"}
          }
        },
        {
          "data": {"name": "rot14"},
          "mark": {"type": "text", "fontSize": 14.5, "angle": 270, "align": "center", "baseline": "middle"},
          "encoding": {
            "x": {"field": "x", "type": "quantitative", "scale": {"domain": [-4000, 0, 2000], "range": [873, 479, 283], "nice": false, "zero": false}, "axis": null},
            "y": {"field": "y", "type": "quantitative", "scale": {"domain": [-4000, 0, 1500, 2000], "range": [66, 455, 606, 649], "nice": false, "zero": false}, "axis": null},
            "text": {"field": "t"}
          }
        },
        {
          "data": {"name": "rot_glacier"},
          "mark": {"type": "text", "fontSize": 12.5, "angle": 270, "align": "center", "baseline": "middle"},
          "encoding": {
            "x": {"field": "x", "type": "quantitative", "scale": {"domain": [-4000, 0, 2000], "range": [873, 479, 283], "nice": false, "zero": false}, "axis": null},
            "y": {"field": "y", "type": "quantitative", "scale": {"domain": [-4000, 0, 1500, 2000], "range": [66, 455, 606, 649], "nice": false, "zero": false}, "axis": null},
            "text": {"field": "t"}
          }
        },
        {
          "data": {"name": "rot_advance"},
          "mark": {"type": "text", "fontSize": 11, "angle": 270, "align": "center", "baseline": "middle"},
          "encoding": {
            "x": {"field": "x", "type": "quantitative", "scale": {"domain": [-4000, 0, 2000], "range": [873, 479, 283], "nice": false, "zero": false}, "axis": null},
            "y": {"field": "y", "type": "quantitative", "scale": {"domain": [-4000, 0, 1500, 2000], "range": [66, 455, 606, 649], "nice": false, "zero": false}, "axis": null},
            "text": {"field": "t"}
          }
        },
        {
          "data": {"name": "arrows"},
          "mark": {"type": "text", "font": "DejaVu Sans", "fontSize": 11, "align": "center", "baseline": "middle", "color": "#8fa5a5"},
          "encoding": {
            "x": {"field": "x", "type": "quantitative", "scale": {"domain": [-4000, 0, 2000], "range": [873, 479, 283], "nice": false, "zero": false}, "axis": null},
            "y": {"field": "y", "type": "quantitative", "scale": {"domain": [-4000, 0, 1500, 2000], "range": [66, 455, 606, 649], "nice": false, "zero": false}, "axis": null},
            "text": {"field": "t"}
          }
        },
        {
          "data": {"name": "qmarks"},
          "mark": {"type": "text", "fontSize": 13, "align": "center", "baseline": "middle", "color": "#333"},
          "encoding": {
            "x": {"field": "x", "type": "quantitative", "scale": {"domain": [-4000, 0, 2000], "range": [873, 479, 283], "nice": false, "zero": false}, "axis": null},
            "y": {"field": "y", "type": "quantitative", "scale": {"domain": [-4000, 0, 1500, 2000], "range": [66, 455, 606, 649], "nice": false, "zero": false}, "axis": null},
            "text": {"field": "t"}
          }
        },
        {
          "data": {"name": "title_h"},
          "mark": {"type": "text", "font": "Roboto", "fontSize": 22.5, "align": "left", "baseline": "middle", "color": "#1a1a1a"},
          "encoding": {
            "x": {"field": "x", "type": "quantitative", "scale": {"domain": [-4000, 0, 2000], "range": [873, 479, 283], "nice": false, "zero": false}, "axis": null},
            "y": {"field": "y", "type": "quantitative", "scale": {"domain": [-4000, 0, 1500, 2000], "range": [66, 455, 606, 649], "nice": false, "zero": false}, "axis": null},
            "text": {"field": "t"}
          }
        },
        {
          "data": {"name": "title_v"},
          "mark": {"type": "text", "font": "Roboto", "fontSize": 22.5, "angle": 270, "align": "left", "baseline": "middle", "color": "#1a1a1a"},
          "encoding": {
            "x": {"field": "x", "type": "quantitative", "scale": {"domain": [-4000, 0, 2000], "range": [873, 479, 283], "nice": false, "zero": false}, "axis": null},
            "y": {"field": "y", "type": "quantitative", "scale": {"domain": [-4000, 0, 1500, 2000], "range": [66, 455, 606, 649], "nice": false, "zero": false}, "axis": null},
            "text": {"field": "t"}
          }
        }
      ]
    }
  ],
  "resolve": {"scale": {"x": "independent", "y": "independent"}, "axis": {"x": "independent", "y": "independent"}}
}
